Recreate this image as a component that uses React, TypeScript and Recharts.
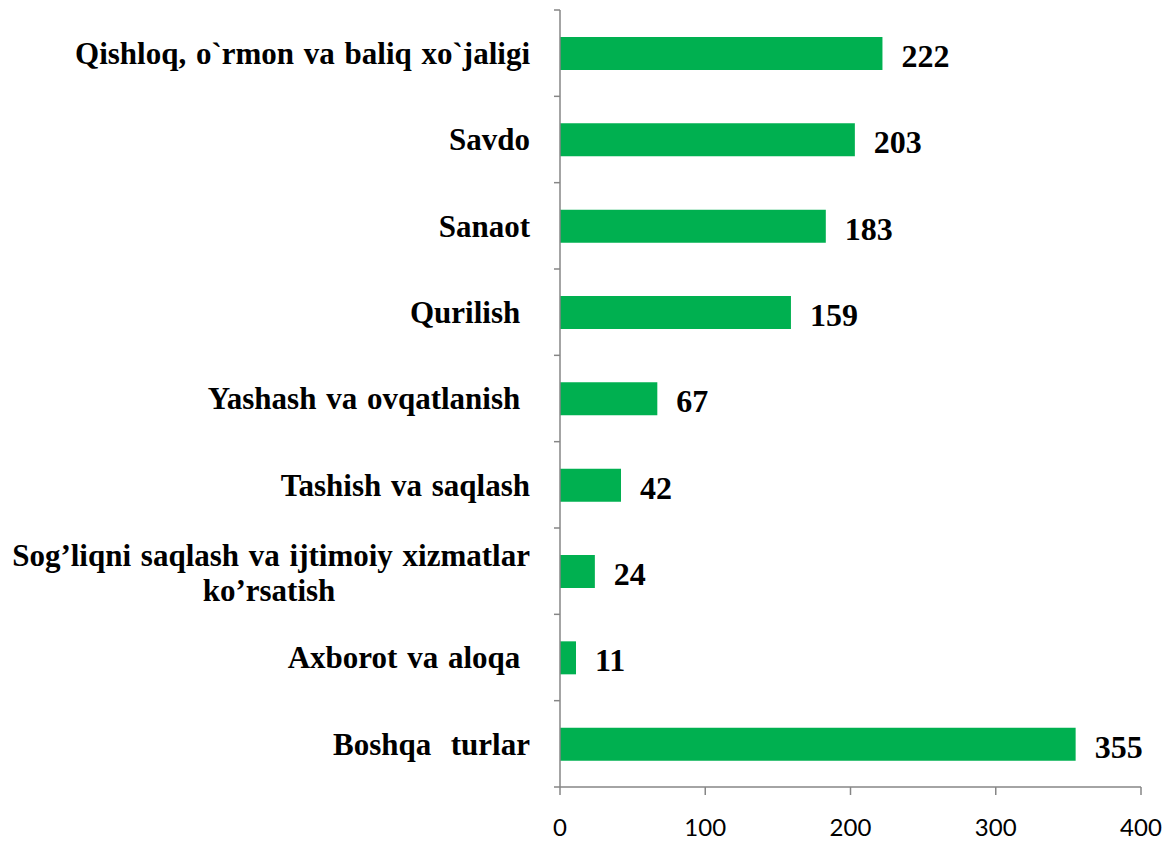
import React from 'react';
import { BarChart, Bar, XAxis, YAxis, LabelList } from 'recharts';

const categories = [
  'Qishloq, o`rmon va baliq xo`jaligi',
  'Savdo',
  'Sanaot',
  'Qurilish ',
  'Yashash va ovqatlanish ',
  'Tashish va saqlash',
  'Sog’liqni saqlash va ijtimoiy xizmatlar|ko’rsatish',
  'Axborot va aloqa ',
  'Boshqa  turlar',
];
const values = [222, 203, 183, 159, 67, 42, 24, 11, 355];
const xTicks = [0, 100, 200, 300, 400];

const data = categories.map((c, i) => ({ name: c, value: values[i] }));

const W = 1176;
const H = 845;
const M = { top: 10, right: 35, left: 0, bottom: 0 };
const X_AXIS_H = 58;
const Y_AXIS_W = 560;
const PLOT_H = H - M.top - M.bottom - X_AXIS_H;
const BAND = PLOT_H / categories.length;
const AXIS_GREY = '#868686';
const LABEL_FONT = '"Liberation Serif", "Times New Roman", serif';
const CAT_SIZE = 31;

const CategoryTick = (props: any) => {
  const { y, payload, index } = props;
  const lines = String(payload.value).split('|');
  const axisX = M.left + Y_AXIS_W;
  const textEnd = axisX - 30;
  const isLast = index === categories.length - 1;
  const style = { whiteSpace: 'pre' as const, wordSpacing: 2 };
  const common = {
    fontFamily: LABEL_FONT,
    fontWeight: 'bold',
    fontSize: CAT_SIZE,
    fill: '#000',
    style,
    dy: '0.35em',
  };
  return (
    <g>
      <line x1={axisX - 6} x2={axisX} y1={y - BAND / 2} y2={y - BAND / 2} stroke={AXIS_GREY} strokeWidth={1.5} />
      {isLast && (
        <line x1={axisX - 6} x2={axisX} y1={y + BAND / 2} y2={y + BAND / 2} stroke={AXIS_GREY} strokeWidth={1.5} />
      )}
      {lines.length === 1 ? (
        <text x={textEnd} y={y} textAnchor="end" {...common}>
          {lines[0]}
        </text>
      ) : (
        <g>
          <text x={textEnd} y={y - 16} textAnchor="end" {...common}>
            {lines[0]}
          </text>
          <text x={textEnd - 261} y={y + 19} textAnchor="middle" {...common}>
            {lines[1]}
          </text>
        </g>
      )}
    </g>
  );
};

export default function App() {
  return (
    <div style={{ position: 'absolute', left: 0, top: 0, width: W, height: H, background: '#fff' }}>
      <BarChart
        width={W}
        height={H}
        data={data}
        layout="vertical"
        margin={M}
        barSize={33}
      >
        <XAxis
          type="number"
          domain={[0, 400]}
          ticks={xTicks}
          height={X_AXIS_H}
          stroke={AXIS_GREY}
          axisLine={{ stroke: AXIS_GREY, strokeWidth: 1.5 }}
          tickLine={{ stroke: AXIS_GREY, strokeWidth: 1.5 }}
          tickSize={8}
          tickMargin={24}
          tick={{ fill: '#000', fontSize: 24, fontFamily: 'Lato, "Open Sans", sans-serif' }}
          interval={0}
        />
        <YAxis
          type="category"
          dataKey="name"
          width={Y_AXIS_W}
          axisLine={{ stroke: AXIS_GREY, strokeWidth: 1.5 }}
          tickLine={false}
          tick={<CategoryTick />}
          interval={0}
        />
        <Bar dataKey="value" fill="#00B050" isAnimationActive={false}>
          <LabelList
            dataKey="value"
            position="right"
            offset={19}
            dy={2}
            fill="#000"
            fontSize={32}
            fontWeight="bold"
            fontFamily={LABEL_FONT}
          />
        </Bar>
      </BarChart>
    </div>
  );
}
